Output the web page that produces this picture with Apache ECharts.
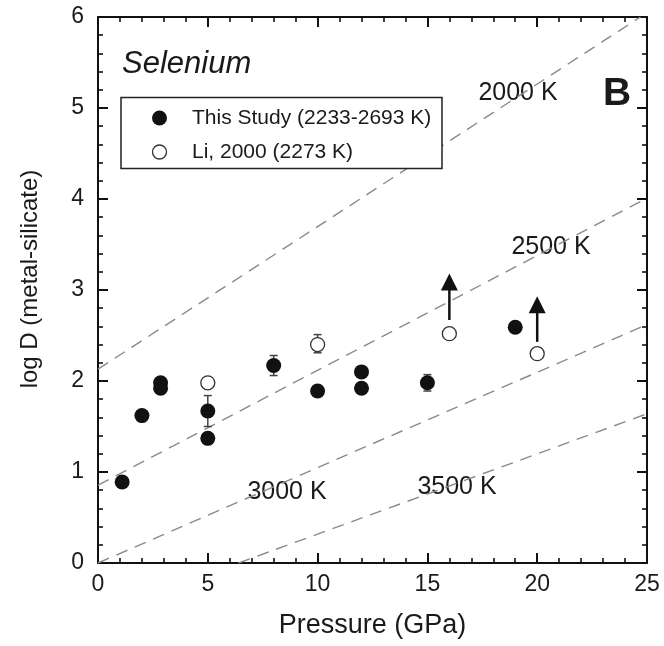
<!DOCTYPE html>
<html>
<head>
<meta charset="utf-8">
<script src="https://cdn.jsdelivr.net/npm/echarts@6/dist/echarts.min.js"></script>
<style>html,body{margin:0;padding:0;background:#fff}#c{width:664px;height:646px}</style>
</head>
<body>
<div id="c"></div>
<script>
// ---- data ----
const thisStudy = [[1.1,0.89],[2.0,1.62],[2.85,1.98],[2.85,1.92],[5.0,1.67],[5.0,1.37],[8.0,2.17],[10.0,1.89],[12.0,2.10],[12.0,1.92],[15.0,1.98],[19.0,2.59]];
const li2000 = [[5.0,1.98],[10.0,2.40],[16.0,2.52],[20.0,2.30]];
const errorBars = [[5.0,1.50,1.84],[8.0,2.06,2.28],[10.0,2.31,2.51],[15.0,1.89,2.07]];
const arrows = [[16.0,2.67,3.18],[20.0,2.43,2.93]];
const iso2000 = [[0,2.13],[24.7,6.0]];
const iso2500 = [[0,0.855],[25,4.01]];
const iso3000 = [[0,0.0],[25,2.62]];
const iso3500 = [[6.4,0.0],[25,1.64]];
const xTicks = [0,5,10,15,20,25];
const yTicks = [0,1,2,3,4,5,6];

const FONT = '"Liberation Sans", Arial, Helvetica, sans-serif';
const chart = echarts.init(document.getElementById('c'));

const dashStyle = {color:'#8a8a8a', width:1.4, type:[12,8]};
function isoSeries(data){
  return {type:'line', data:data, symbol:'none', silent:true, z:1,
    lineStyle:dashStyle, animation:false};
}
const axisCommon = {
  axisLine:{show:true, onZero:false, lineStyle:{color:'#111', width:2}},
  axisTick:{show:true, inside:true, length:10, lineStyle:{color:'#111', width:2}},
  minorTick:{show:true, length:5, splitNumber:5, lineStyle:{color:'#111', width:1.6}},
  splitLine:{show:false}
};

chart.setOption({
  animation:false,
  grid:{left:98, right:17, top:17, bottom:83},
  xAxis:[
    Object.assign({type:'value', position:'bottom', min:0, max:25, interval:5,
      name:'Pressure (GPa)', nameLocation:'middle', nameGap:49,
      nameTextStyle:{fontFamily:FONT, fontSize:27, color:'#1a1a1a'},
      axisLabel:{fontFamily:FONT, fontSize:23, color:'#1a1a1a', margin:10,
        formatter:v=> xTicks.includes(v)? String(v):''}}, axisCommon),
    Object.assign({type:'value', position:'top', min:0, max:25, interval:5,
      axisLabel:{show:false}}, axisCommon)
  ],
  yAxis:[
    Object.assign({type:'value', position:'left', min:0, max:6, interval:1,
      axisLabel:{fontFamily:FONT, fontSize:23, color:'#1a1a1a', margin:14,
        formatter:v=> yTicks.includes(v)? String(v):''}}, axisCommon),
    Object.assign({type:'value', position:'right', min:0, max:6, interval:1,
      axisLabel:{show:false}}, axisCommon)
  ],
  series:[
    isoSeries(iso2000), isoSeries(iso2500), isoSeries(iso3000), isoSeries(iso3500),
    {type:'custom', z:3, data:errorBars, silent:true,
      renderItem:function(params, api){
        const x=api.value(0), lo=api.value(1), hi=api.value(2);
        const a=api.coord([x,lo]), b=api.coord([x,hi]);
        const st={stroke:'#444', lineWidth:1.5};
        return {type:'group', children:[
          {type:'line', shape:{x1:a[0],y1:a[1],x2:b[0],y2:b[1]}, style:st},
          {type:'line', shape:{x1:a[0]-4,y1:a[1],x2:a[0]+4,y2:a[1]}, style:st},
          {type:'line', shape:{x1:b[0]-4,y1:b[1],x2:b[0]+4,y2:b[1]}, style:st}
        ]};
      }},
    {type:'scatter', name:'This Study (2233-2693 K)', data:thisStudy, symbol:'circle', symbolSize:15, z:5,
      itemStyle:{color:'#111', opacity:1}},
    {type:'scatter', name:'Li, 2000 (2273 K)', data:li2000, symbol:'circle', symbolSize:14, z:5,
      itemStyle:{color:'#fff', borderColor:'#333', borderWidth:1.3, opacity:1}},
    {type:'custom', z:6, data:arrows, silent:true,
      renderItem:function(params, api){
        const x=api.value(0), y0=api.value(1), y1=api.value(2);
        const a=api.coord([x,y0]), b=api.coord([x,y1]);
        const h=17, w=8.5;
        return {type:'group', children:[
          {type:'line', shape:{x1:a[0],y1:a[1],x2:b[0],y2:b[1]+h-2}, style:{stroke:'#111', lineWidth:2.5}},
          {type:'polygon', shape:{points:[[b[0],b[1]],[b[0]-w,b[1]+h],[b[0]+w,b[1]+h]]}, style:{fill:'#111'}}
        ]};
      }}
  ],
  graphic:[
    {type:'text', x:30, y:279, rotation:Math.PI/2, style:{text:'log D (metal-silicate)', font:'24px '+FONT, fill:'#1a1a1a', align:'center', verticalAlign:'middle'}},
    {type:'text', left:122, top:49, style:{text:'Selenium', font:'italic 31px '+FONT, fill:'#1a1a1a'}},
    {type:'text', left:603, top:75, style:{text:'B', font:'bold 39px '+FONT, fill:'#1a1a1a'}},
    {type:'text', x:518, y:93, style:{text:'2000 K', font:'25px '+FONT, fill:'#1a1a1a', align:'center', verticalAlign:'middle'}},
    {type:'text', x:551, y:247, style:{text:'2500 K', font:'25px '+FONT, fill:'#1a1a1a', align:'center', verticalAlign:'middle'}},
    {type:'text', x:287, y:492, style:{text:'3000 K', font:'25px '+FONT, fill:'#1a1a1a', align:'center', verticalAlign:'middle'}},
    {type:'text', x:457, y:487, style:{text:'3500 K', font:'25px '+FONT, fill:'#1a1a1a', align:'center', verticalAlign:'middle'}},
    {type:'rect', shape:{x:121, y:97.5, width:321, height:71}, style:{fill:'#fff', stroke:'#222', lineWidth:1.5}, z:10},
    {type:'circle', shape:{cx:159.5, cy:118, r:7.5}, style:{fill:'#111'}, z:11},
    {type:'circle', shape:{cx:159.5, cy:152, r:7}, style:{fill:'#fff', stroke:'#333', lineWidth:1.3}, z:11},
    {type:'text', x:192, y:118, style:{text:'This Study (2233-2693 K)', font:'21px '+FONT, fill:'#1a1a1a', verticalAlign:'middle'}, z:11},
    {type:'text', x:192, y:152, style:{text:'Li, 2000 (2273 K)', font:'21px '+FONT, fill:'#1a1a1a', verticalAlign:'middle'}, z:11}
  ]
});
</script>
</body>
</html>
